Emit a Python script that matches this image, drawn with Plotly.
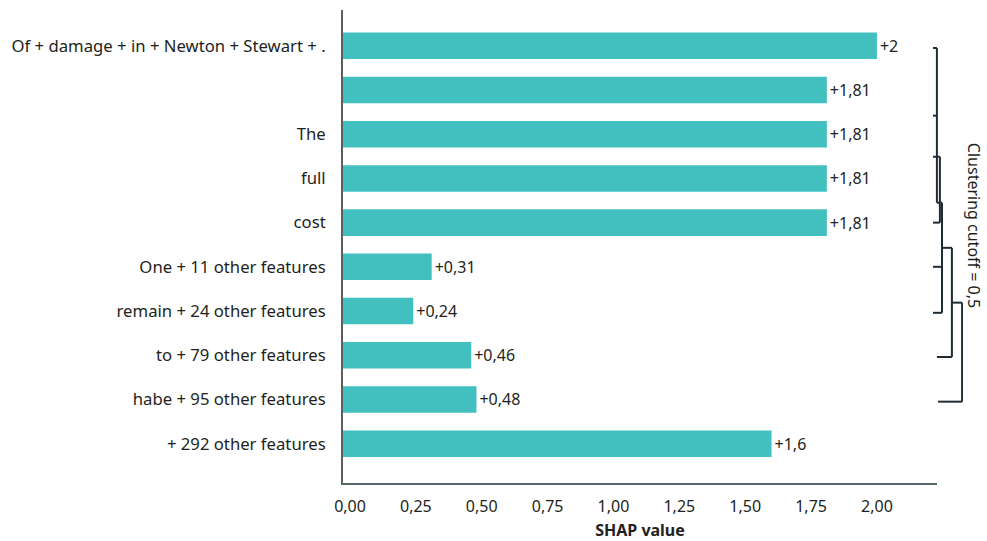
import plotly.graph_objects as go

# ---- data ----
features = [
    "Of + damage + in + Newton + Stewart + .",
    "",
    "The",
    "full",
    "cost",
    "One + 11 other features",
    "remain + 24 other features",
    "to + 79 other features",
    "habe + 95 other features",
    "+ 292 other features",
]
shap_values = [2.00, 1.81, 1.81, 1.81, 1.81, 0.31, 0.24, 0.46, 0.48, 1.60]
x_ticks = [0, 0.25, 0.5, 0.75, 1.0, 1.25, 1.5, 1.75, 2.0]
x_min, x_max = -0.0266, 2.228

# dendrogram (row units on y, merge distance on x)
dendro_h_y = [0.05, 1.58, 2.51, 2.51, 4.0, 5.0, 6.04, 7.04, 8.05, 3.55, 4.57, 5.81]
dendro_h_x0 = [0.0, 0.0, 0.0, 0.13, 0.0, 0.0, 0.0, 0.13, 0.17, 0.13, 0.30, 0.63]
dendro_h_x1 = [0.13, 0.13, 0.13, 0.23, 0.23, 0.30, 0.30, 0.63, 0.97, 0.30, 0.63, 0.97]
dendro_v_x = [0.13, 0.23, 0.30, 0.63, 0.97]
dendro_v_y0 = [0.05, 2.51, 3.55, 4.57, 5.81]
dendro_v_y1 = [3.55, 4.0, 6.04, 7.04, 8.05]

def fmt(v):
    s = f"{v:.2f}".rstrip("0").rstrip(".")
    return "+" + s.replace(".", ",")

TXT = "#231f20"
FONT = "Noto Sans"
rows = list(range(len(features)))

fig = go.Figure()
# bars drawn from the axis edge up to each value
fig.add_trace(go.Bar(
    x=[v - x_min for v in shap_values], base=x_min, y=rows, orientation="h", width=0.6,
    marker=dict(color="#42C0C0", line=dict(width=0)),
    text=[fmt(v) for v in shap_values], textposition="outside",
    textfont=dict(size=16, color=TXT, family=FONT),
    cliponaxis=False, showlegend=False, hoverinfo="skip",
))

dx, dy = [], []
for y, a, b in zip(dendro_h_y, dendro_h_x0, dendro_h_x1):
    dx += [a, b, None]
    dy += [y, y, None]
for x, a, b in zip(dendro_v_x, dendro_v_y0, dendro_v_y1):
    dx += [x, x, None]
    dy += [a, b, None]
fig.add_trace(go.Scatter(
    x=dx, y=dy, xaxis="x2", yaxis="y", mode="lines",
    line=dict(color="#1e2d33", width=2), showlegend=False,
    hoverinfo="skip", cliponaxis=False,
))

plot_w = 987 - 343 - 20
fig.update_layout(
    width=987, height=541,
    margin=dict(l=343, r=20, t=10, b=58),
    plot_bgcolor="white", paper_bgcolor="white",
    separators=",.",
    font=dict(family=FONT, color=TXT, size=16),
    xaxis=dict(
        domain=[0, 594 / plot_w], range=[x_min, x_max], automargin=False,
        tickvals=x_ticks, tickformat=".2f",
        showline=True, linecolor="#56666b", linewidth=2,
        showgrid=False, zeroline=False,
        ticks="outside", ticklen=8, tickcolor="rgba(0,0,0,0)",
        tickfont=dict(size=16, color=TXT),
        title=dict(text="<b>SHAP value</b>", font=dict(size=16, color=TXT), standoff=16),
    ),
    xaxis2=dict(
        domain=[(933 - 343) / plot_w, (963 - 343) / plot_w], range=[0, 1],
        visible=False, anchor="y",
    ),
    yaxis=dict(
        range=[9.89, -0.81], tickvals=rows, ticktext=features, automargin=False,
        showline=True, linecolor="#5e5e5e", linewidth=2,
        showgrid=False, zeroline=False,
        ticks="outside", ticklen=12, tickcolor="rgba(0,0,0,0)",
        tickfont=dict(size=16.7, color=TXT),
    ),
    annotations=[dict(
        text="Clustering cutoff = 0,5", xref="paper", yref="y",
        x=(974 - 343) / plot_w, y=4.05, xanchor="center", yanchor="middle",
        textangle=90, showarrow=False,
        font=dict(size=16, color=TXT),
    )],
)
fig.write_html("out.html")
